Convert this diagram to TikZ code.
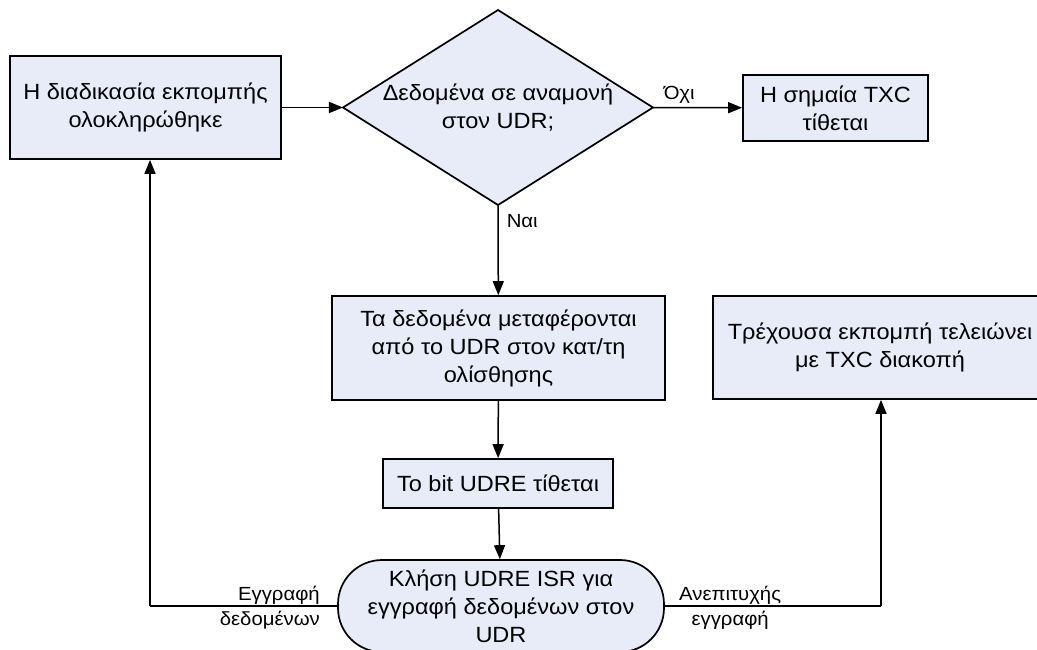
\documentclass[tikz,border=0pt]{standalone}
\usepackage{fontspec}
\setmainfont{Liberation Sans}[FakeStretch=1.07]
\usetikzlibrary{shapes.geometric,arrows.meta}
\definecolor{boxfill}{RGB}{232,236,248}
\tikzset{
  boxtext/.style={font=\fontsize{22}{28}\selectfont, align=center},
  procbox/.style={draw=black, line width=1.7pt, fill=boxfill, boxtext, inner sep=0pt},
  decision/.style={draw=black, line width=1.7pt, fill=boxfill, boxtext,
    diamond, inner sep=0pt, outer sep=0pt},
  termbox/.style={draw=black, line width=1.7pt, fill=boxfill, boxtext,
    rounded corners=44pt, inner sep=0pt},
  flow/.style={line width=1.5pt, -{Triangle[length=14pt,width=11pt]}},
  flowline/.style={line width=1.5pt},
  lbl/.style={font=\fontsize{19}{25}\selectfont, inner sep=0pt}
}
\begin{document}
\begin{tikzpicture}[x=1pt,y=-1pt]
\useasboundingbox (0,0) rectangle (1037,649);
\clip (0,0) rectangle (1037,649);
\fill[white] (0,0) rectangle (1037,649);

\node[procbox, minimum width=271pt, minimum height=103pt] (done) at (145.5,107.5)
  {Η διαδικασία εκπομπής\\ολοκληρώθηκε};
\node[decision, aspect=1.59, minimum width=310pt, minimum height=195pt] (wait) at (498,107.5)
  {Δεδομένα σε αναμονή\\στον UDR;};
\node[procbox, minimum width=185pt, minimum height=66pt] (txc) at (835.5,108)
  {Η σημαία TXC\\τίθεται};
\node[procbox, minimum width=333pt, minimum height=104pt] (move) at (498.5,348)
  {Τα δεδομένα μεταφέρονται\\από το UDR στον κατ/τη\\ολίσθησης};
\node[procbox, minimum width=230pt, minimum height=49pt] (udre) at (498,483.5)
  {Το bit UDRE τίθεται};
\node[termbox, minimum width=326pt, minimum height=92pt] (isr) at (501,606)
  {Κλήση UDRE ISR για\\εγγραφή δεδομένων στον\\UDR};
\node[procbox, minimum width=334pt, minimum height=103pt] (endtx) at (880,347.5)
  {Τρέχουσα εκπομπή τελειώνει\\με TXC διακοπή};

\draw[flow] (done) -- (wait);
\draw[flow] (wait.east) -- node[lbl, pos=0, anchor=south west, xshift=10pt, yshift=3pt] {Όχι} (txc);
\draw[flow] (wait.south) -- node[lbl, pos=0, anchor=north west, xshift=8pt, yshift=-9pt] {Ναι} (move);
\draw[flow] (move) -- (udre);
\draw[flow] (udre) -- (isr);

\coordinate (lcorner) at (150,606);
\coordinate (rcorner) at (881,606);
\draw[flowline] (isr.west) -- (lcorner);
\draw[flow] (lcorner) -- (done.south -| lcorner);
\draw[flowline] (isr.east) -- (rcorner);
\draw[flow] (rcorner) -- (endtx.south -| rcorner);

\node[lbl, anchor=east, align=right] (wrlbl) at (320,608) {Εγγραφή\\δεδομένων};
\node[lbl, anchor=west, align=center] (faillbl) at (679,608) {Ανεπιτυχής\\εγγραφή};
\end{tikzpicture}
\end{document}
